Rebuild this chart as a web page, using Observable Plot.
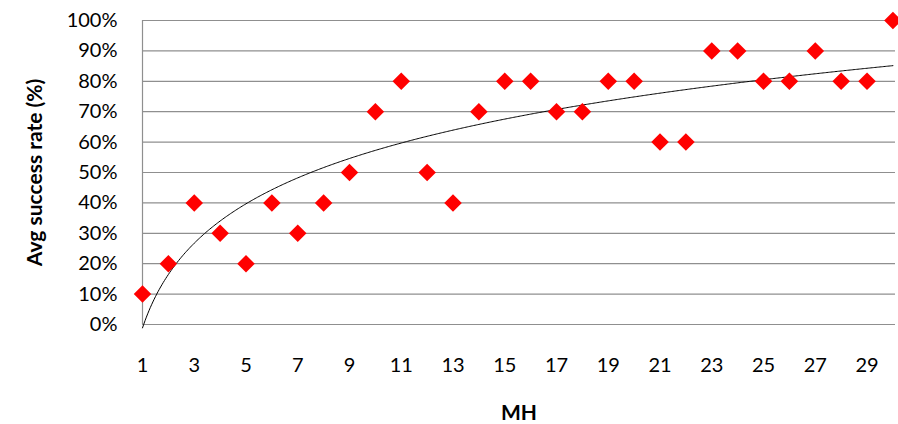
<!DOCTYPE html>
<html><head><meta charset="utf-8">
<script src="https://cdn.jsdelivr.net/npm/d3@7"></script>
<script src="https://cdn.jsdelivr.net/npm/@observablehq/plot@0.6"></script>
<style>body{margin:0;background:#fff}</style>
</head><body><div id="chart"></div>
<script>
// Data
const mh = [1,2,3,4,5,6,7,8,9,10,11,12,13,14,15,16,17,18,19,20,21,22,23,24,25,26,27,28,29,30];
const successRate = [10,20,40,30,20,40,30,40,50,70,80,50,40,70,80,80,70,70,80,80,60,60,90,90,80,80,90,80,80,100];
const xTicks = [1,3,5,7,9,11,13,15,17,19,21,23,25,27,29];
const yTicks = [0,10,20,30,40,50,60,70,80,90,100];
const xTitle = "MH";
const yTitle = "Avg success rate (%)";

const data = mh.map((x, i) => ({x, y: successRate[i]}));

// Logarithmic trendline (least-squares fit y = a·ln(x) + b), as in the source chart
const lx = mh.map(Math.log);
const mx = d3.mean(lx), my = d3.mean(successRate);
const a = d3.sum(lx, (v, i) => (v - mx) * (successRate[i] - my)) / d3.sum(lx, v => (v - mx) ** 2);
const b = my - a * mx;
const trend = d3.range(1, 30.001, 0.05).map(x => ({x, y: a * Math.log(x) + b}));

const chart = Plot.plot({
  width: 898, height: 424,
  marginLeft: 142, marginRight: 3, marginTop: 20, marginBottom: 100,
  style: {fontFamily: "Lato, 'Open Sans', sans-serif", fontSize: "20px", color: "#000", background: "#fff", overflow: "visible"},
  x: {domain: [1, 30.1]},
  y: {domain: [0, 100]},
  marks: [
    Plot.gridY(yTicks, {stroke: "#8f8f8f", strokeOpacity: 1, strokeWidth: 1.2}),
    Plot.ruleX([1], {y1: 0, y2: 100, stroke: "#8f8f8f", strokeWidth: 1.2}),
    Plot.axisY(yTicks, {tickSize: 0, tickPadding: 25, tickFormat: d => d + "%", label: null, fontSize: 20}),
    Plot.axisX(xTicks, {tickSize: 0, tickPadding: 33, label: null, fontSize: 20}),
    Plot.text([yTitle], {frameAnchor: "left", textAnchor: "middle", lineAnchor: "middle", rotate: -90, dx: -107, fontWeight: "bold", fontSize: 21}),
    Plot.text([xTitle], {frameAnchor: "bottom", textAnchor: "middle", lineAnchor: "middle", dy: 89, fontWeight: "bold", fontSize: 21}),
    Plot.line(trend, {x: "x", y: "y", stroke: "#000", strokeWidth: 1}),
    Plot.dot(data, {x: "x", y: "y", symbol: "square", rotate: 45, r: 7, fill: "#ff0000", stroke: "none"})
  ]
});
document.getElementById("chart").append(chart);
</script>
</body></html>
